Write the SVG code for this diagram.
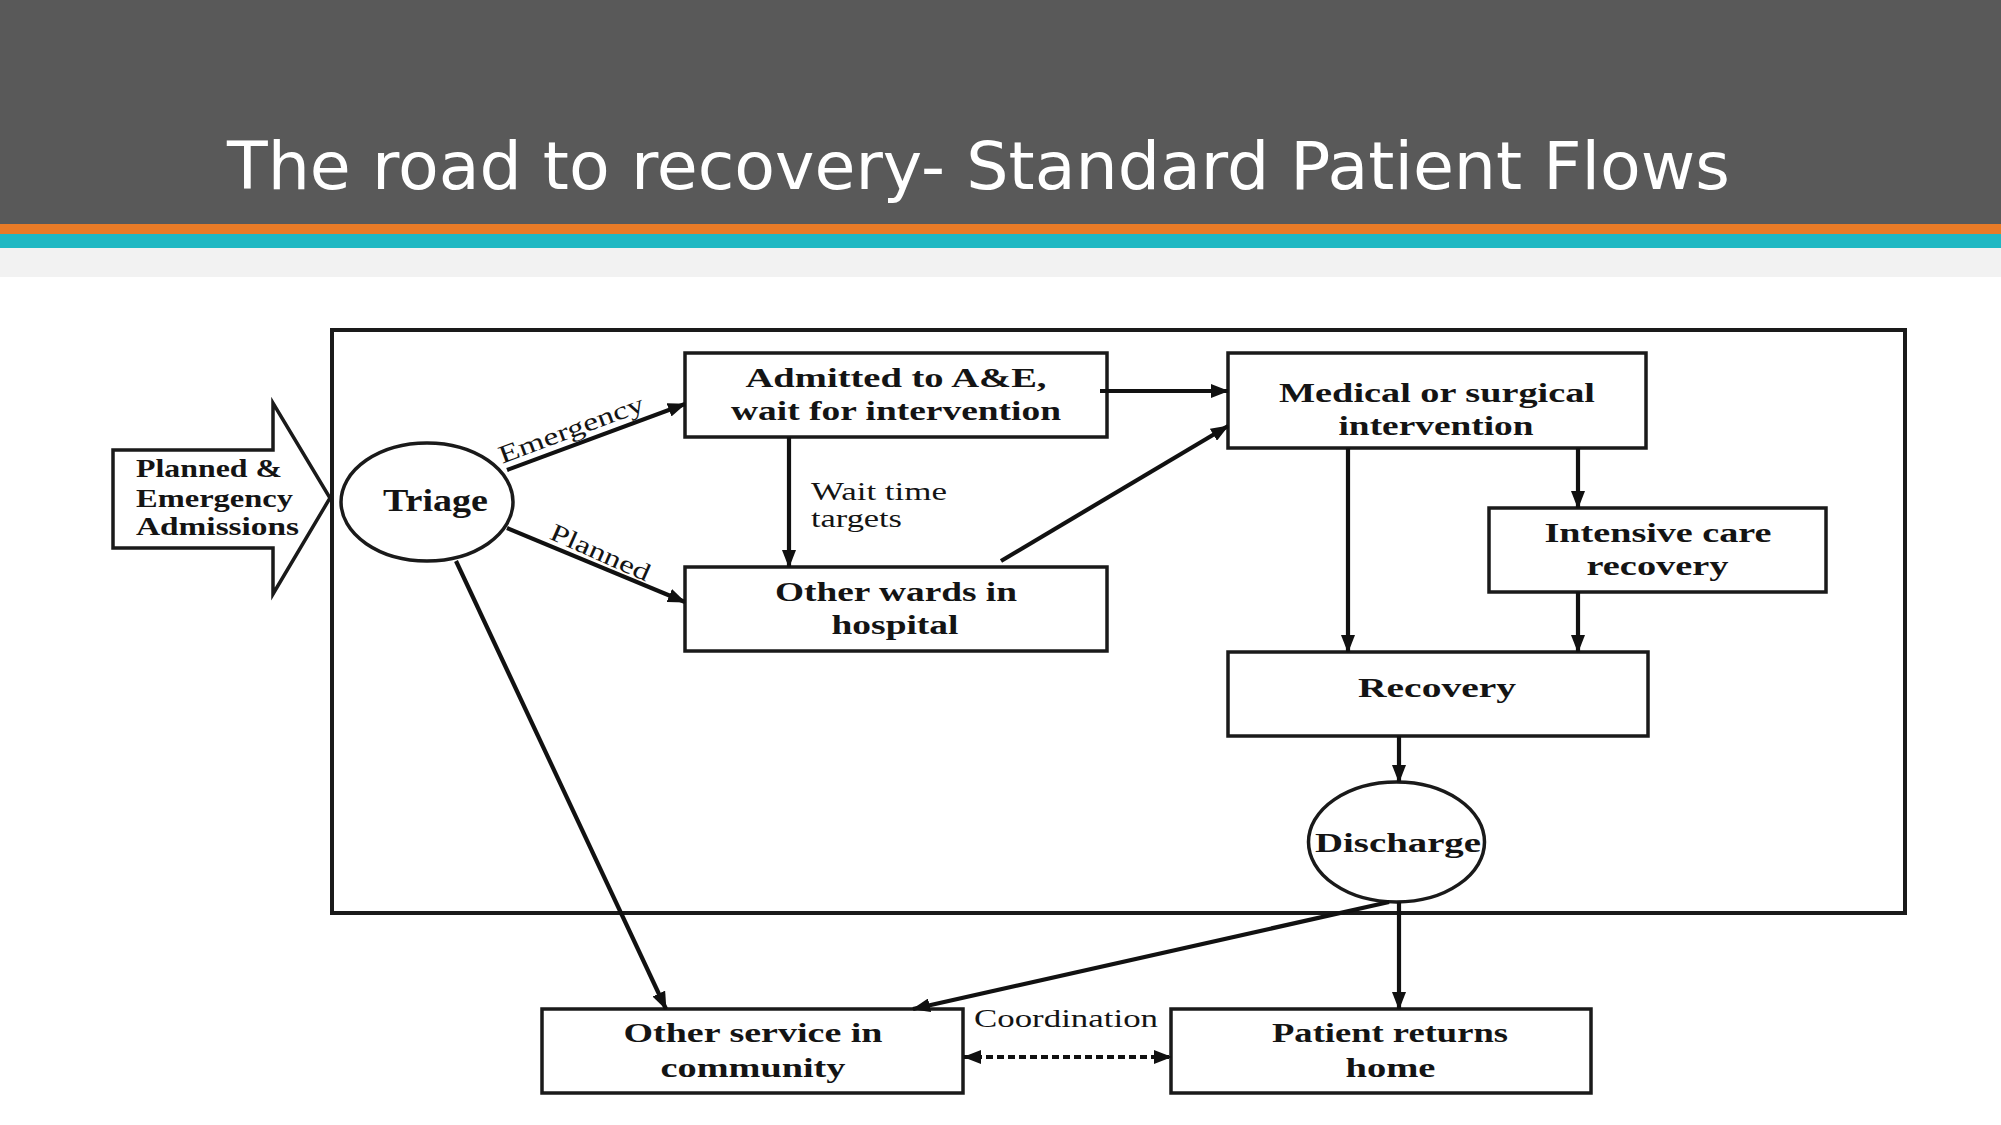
<svg xmlns="http://www.w3.org/2000/svg" width="2001" height="1125" viewBox="0 0 2001 1125">
<style>
.box{fill:#fff;stroke:#1a1a1a;stroke-width:3.5}
.frame{fill:none;stroke:#1a1a1a;stroke-width:4}
.ln{fill:none;stroke:#111;stroke-width:4.2}
.nt{font-family:"Liberation Serif","Times New Roman",serif;font-weight:bold;font-size:28px;fill:#141414;text-anchor:middle}
.et{font-family:"Liberation Serif","Times New Roman",serif;font-size:25px;fill:#141414}
</style>
<defs>
<marker id="ah" markerUnits="userSpaceOnUse" markerWidth="18" markerHeight="14" refX="17" refY="7" orient="auto">
<path d="M0,0 L18,7 L0,14 z" fill="#111"/>
</marker>
<marker id="ahs" markerUnits="userSpaceOnUse" markerWidth="18" markerHeight="14" refX="17" refY="7" orient="auto-start-reverse">
<path d="M0,0 L18,7 L0,14 z" fill="#111"/>
</marker>
</defs>
<rect x="0" y="0" width="2001" height="1125" fill="#fff"/>
<g id="header">
<rect x="0" y="0" width="2001" height="224" fill="#595959"/>
<rect x="0" y="224" width="2001" height="10" fill="#E97B27"/>
<rect x="0" y="234" width="2001" height="14" fill="#20B8C3"/>
<rect x="0" y="248" width="2001" height="29" fill="#F2F2F2"/>
<text x="227" y="189" font-family="DejaVu Sans, Verdana, sans-serif" font-size="65" fill="#fff" textLength="1503" lengthAdjust="spacingAndGlyphs">The road to recovery- Standard Patient Flows</text>
</g>
<rect class="frame" x="332" y="330" width="1573" height="583"/>
<g id="admissions">
<polygon class="box" points="113,450 273,450 273,403 330,498 273,594 273,548 113,548"/>
<text class="nt" style="text-anchor:start;font-size:26px" x="136" y="477" textLength="146" lengthAdjust="spacingAndGlyphs">Planned &amp;</text>
<text class="nt" style="text-anchor:start;font-size:26px" x="136" y="507" textLength="157" lengthAdjust="spacingAndGlyphs">Emergency</text>
<text class="nt" style="text-anchor:start;font-size:26px" x="136" y="535" textLength="163" lengthAdjust="spacingAndGlyphs">Admissions</text>
</g>
<g id="triage">
<ellipse class="box" cx="427" cy="502" rx="86" ry="59"/>
<text class="nt" x="435.5" y="511" style="font-size:31px" textLength="105" lengthAdjust="spacingAndGlyphs">Triage</text>
</g>
<g id="admitted">
<rect class="box" x="685" y="353" width="422" height="84"/>
<text class="nt" x="896" y="387" textLength="301" lengthAdjust="spacingAndGlyphs">Admitted to A&amp;E,</text>
<text class="nt" x="896" y="420" textLength="330" lengthAdjust="spacingAndGlyphs">wait for intervention</text>
</g>
<g id="otherwards">
<rect class="box" x="685" y="567" width="422" height="84"/>
<text class="nt" x="896" y="601" textLength="242" lengthAdjust="spacingAndGlyphs">Other wards in</text>
<text class="nt" x="895" y="634" textLength="127" lengthAdjust="spacingAndGlyphs">hospital</text>
</g>
<g id="medical">
<rect class="box" x="1228" y="353" width="418" height="95"/>
<text class="nt" x="1437" y="402" textLength="316" lengthAdjust="spacingAndGlyphs">Medical or surgical</text>
<text class="nt" x="1436" y="435" textLength="195" lengthAdjust="spacingAndGlyphs">intervention</text>
</g>
<g id="intensive">
<rect class="box" x="1489" y="508" width="337" height="84"/>
<text class="nt" x="1658" y="542" textLength="227" lengthAdjust="spacingAndGlyphs">Intensive care</text>
<text class="nt" x="1657.5" y="575" textLength="142" lengthAdjust="spacingAndGlyphs">recovery</text>
</g>
<g id="recovery">
<rect class="box" x="1228" y="652" width="420" height="84"/>
<text class="nt" x="1437" y="697" textLength="158" lengthAdjust="spacingAndGlyphs">Recovery</text>
</g>
<g id="discharge">
<ellipse class="box" cx="1396.5" cy="842" rx="88" ry="60"/>
<text class="nt" x="1398" y="852" textLength="166" lengthAdjust="spacingAndGlyphs">Discharge</text>
</g>
<g id="otherservice">
<rect class="box" x="542" y="1009" width="421" height="84"/>
<text class="nt" x="753" y="1042" textLength="259" lengthAdjust="spacingAndGlyphs">Other service in</text>
<text class="nt" x="753" y="1077" textLength="185" lengthAdjust="spacingAndGlyphs">community</text>
</g>
<g id="home">
<rect class="box" x="1171" y="1009" width="420" height="84"/>
<text class="nt" x="1390" y="1042" textLength="236" lengthAdjust="spacingAndGlyphs">Patient returns</text>
<text class="nt" x="1390.5" y="1077" textLength="90" lengthAdjust="spacingAndGlyphs">home</text>
</g>
<g id="connectors">
<line class="ln" x1="507" y1="470" x2="685" y2="404" marker-end="url(#ah)"/>
<line class="ln" x1="507" y1="528" x2="685" y2="602" marker-end="url(#ah)"/>
<line class="ln" x1="789" y1="437" x2="789" y2="567" marker-end="url(#ah)"/>
<line class="ln" x1="1100" y1="391" x2="1228" y2="391" marker-end="url(#ah)"/>
<line class="ln" x1="1001" y1="561" x2="1228" y2="426" marker-end="url(#ah)"/>
<line class="ln" x1="1578" y1="448" x2="1578" y2="508" marker-end="url(#ah)"/>
<line class="ln" x1="1348" y1="448" x2="1348" y2="652" marker-end="url(#ah)"/>
<line class="ln" x1="1578" y1="592" x2="1578" y2="652" marker-end="url(#ah)"/>
<line class="ln" x1="1399" y1="736" x2="1399" y2="782" marker-end="url(#ah)"/>
<line class="ln" x1="1399" y1="902" x2="1399" y2="1009" marker-end="url(#ah)"/>
<line class="ln" x1="1389" y1="902" x2="913" y2="1009" marker-end="url(#ah)"/>
<line class="ln" x1="456" y1="561" x2="666" y2="1009" marker-end="url(#ah)"/>
<line class="ln" x1="964" y1="1057" x2="1171" y2="1057" stroke-dasharray="7,4" marker-start="url(#ahs)" marker-end="url(#ah)"/>
<text class="et" x="574" y="437" text-anchor="middle" textLength="153" lengthAdjust="spacingAndGlyphs" transform="rotate(-20.4 574 437)">Emergency</text>
<text class="et" x="597" y="560" text-anchor="middle" textLength="107" lengthAdjust="spacingAndGlyphs" transform="rotate(24 597 560)">Planned</text>
<text class="et" x="811" y="500" textLength="136" lengthAdjust="spacingAndGlyphs">Wait time</text>
<text class="et" x="811" y="527" textLength="91" lengthAdjust="spacingAndGlyphs">targets</text>
<text class="et" x="974" y="1027" textLength="184" lengthAdjust="spacingAndGlyphs">Coordination</text>
</g>
</svg>
